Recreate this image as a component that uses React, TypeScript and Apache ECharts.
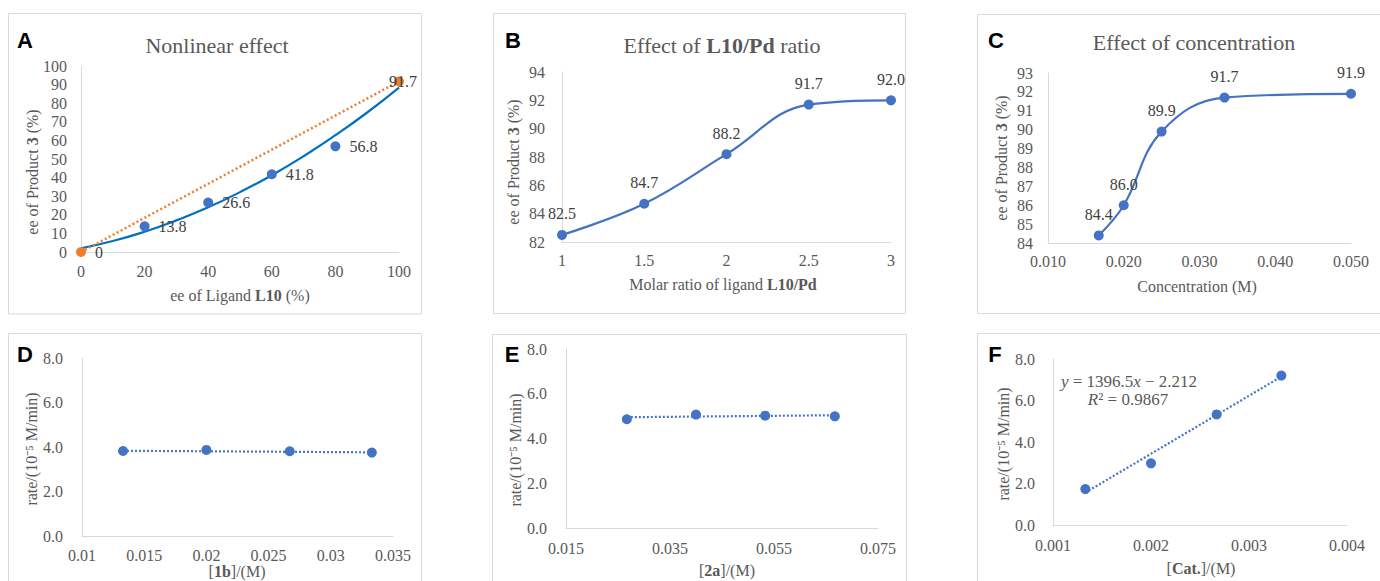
import React, { useEffect, useRef } from "react";
import * as echarts from "echarts";

const SERIF = '"Liberation Serif", "Times New Roman", serif';
const SANS = '"Liberation Sans", Arial, sans-serif';
const GRAY = "#595959";
const LABEL = "#404040";
const AXIS = "#d9d9d9";
const BLUE = "#4472C4";
const FITBLUE = "#0070C0";
const ORANGE = "#ED7D31";

// Panel A – nonlinear effect
const aLigandEe = [20, 40, 60, 80];
const aProductEe = [13.8, 26.6, 41.8, 56.8];
const aRefX = [0, 100];
const aRefY = [0, 91.7];
const aFitX = [0, 10, 20, 30, 40, 50, 60, 70, 80, 90, 100];
const aFitY = [2, 5.9, 10.9, 17.0, 24.0, 32.2, 41.3, 51.5, 62.8, 75.0, 88.4];
const aXTicks = [0, 20, 40, 60, 80, 100];
const aYTicks = [0, 10, 20, 30, 40, 50, 60, 70, 80, 90, 100];

// Panel B – L10/Pd ratio
const bRatio = [1, 1.5, 2, 2.5, 3];
const bEe = [82.5, 84.7, 88.2, 91.7, 92.0];
const bXTicks = [1, 1.5, 2, 2.5, 3];
const bYTicks = [82, 84, 86, 88, 90, 92, 94];

// Panel C – concentration
const cConc = [0.0167, 0.02, 0.025, 0.0333, 0.05];
const cEe = [84.4, 86.0, 89.9, 91.7, 91.9];
const cXTicks = [0.01, 0.02, 0.03, 0.04, 0.05];
const cYTicks = [84, 85, 86, 87, 88, 89, 90, 91, 92, 93];

// Panel D – [1b]
const dConc = [0.0133, 0.02, 0.0267, 0.0333];
const dRate = [3.82, 3.87, 3.81, 3.75];
const dFitX = [0.0133, 0.0333];
const dFitY = [3.83, 3.76];
const dXTicks = [0.01, 0.015, 0.02, 0.025, 0.03, 0.035];

// Panel E – [2a]
const eConc = [0.0267, 0.04, 0.0533, 0.0667];
const eRate = [4.86, 5.07, 5.02, 4.99];
const eFitX = [0.0267, 0.0667];
const eFitY = [4.95, 5.04];
const eXTicks = [0.015, 0.035, 0.055, 0.075];

// Panel F – [Cat.]
const fCat = [0.00133, 0.002, 0.00267, 0.00333];
const fRate = [1.73, 2.97, 5.33, 7.2];
const fFitX = [0.00133, 0.00333];
const fFitY = [1.56, 7.15];
const fXTicks = [0.001, 0.002, 0.003, 0.004];

const rateYTicks = [0, 2, 4, 6, 8];

const pts = (xs: number[], ys: number[]) => xs.map((x, i) => [x, ys[i]]);

function axis(gridIndex: number, ticks: number[], fmt: (v: number) => string, margin: number) {
  return {
    type: "value",
    gridIndex,
    min: ticks[0],
    max: ticks[ticks.length - 1],
    axisLine: { show: true, onZero: false, lineStyle: { color: AXIS, width: 1 } },
    axisTick: { show: false },
    splitLine: { show: false },
    axisLabel: {
      customValues: ticks,
      formatter: fmt,
      margin,
      color: GRAY,
      fontFamily: SERIF,
      fontSize: 16,
    },
  };
}

const labelStyle = { show: true, color: LABEL, fontFamily: SERIF, fontSize: 16 };

function txt(x: number, y: number, text: string, rich: any, rotate = false, base: any = {}) {
  return {
    type: "text",
    x,
    y,
    rotation: rotate ? Math.PI / 2 : 0,
    silent: true,
    style: {
      text,
      rich,
      align: "center",
      verticalAlign: "middle",
      textAlign: "center",
      textVerticalAlign: "middle",
      fill: GRAY,
      fontFamily: SERIF,
      fontSize: 16,
      ...base,
    },
  };
}

const r16 = {
  n: { fontFamily: SERIF, fontSize: 16, fill: GRAY, color: GRAY },
  b: { fontFamily: SERIF, fontSize: 16, fontWeight: "bold", fill: GRAY, color: GRAY },
  i: { fontFamily: SERIF, fontSize: 16, fontStyle: "italic", fill: GRAY, color: GRAY },
};
const r22 = {
  n: { fontFamily: SERIF, fontSize: 22, fill: GRAY, color: GRAY },
  b: { fontFamily: SERIF, fontSize: 22, fontWeight: "bold", fill: GRAY, color: GRAY },
};
const rEq = {
  n: { fontFamily: SERIF, fontSize: 17, fill: GRAY, color: GRAY },
  i: { fontFamily: SERIF, fontSize: 17, fontStyle: "italic", fill: GRAY, color: GRAY },
};

function letter(x: number, y: number, t: string) {
  return {
    type: "text",
    x,
    y,
    silent: true,
    style: {
      text: t,
      align: "center",
      verticalAlign: "middle",
      textAlign: "center",
      textVerticalAlign: "middle",
      fill: "#000",
      fontFamily: SANS,
      fontWeight: "bold",
      fontSize: 22,
    },
  };
}

function border(x: number, y: number, w: number, h: number) {
  return {
    type: "rect",
    silent: true,
    z: -10,
    shape: { x, y, width: w, height: h },
    style: { fill: "none", stroke: AXIS, lineWidth: 1 },
  };
}

export default function App() {
  const ref = useRef<HTMLDivElement>(null);
  useEffect(() => {
    if (!ref.current) return;
    const chart = echarts.init(ref.current, null, { renderer: "svg", width: 1380, height: 581 });
    const f0 = (v: number) => String(Math.round(v));
    const fB = (v: number) => String(+v.toFixed(2));
    const f3 = (v: number) => v.toFixed(3);
    const fD = (v: number) => String(+v.toFixed(4));
    const f1 = (v: number) => v.toFixed(1);
    const dotted = { type: [2, 2], width: 2.2, color: BLUE };

    const option: any = {
      animation: false,
      backgroundColor: "#fff",
      grid: [
        { left: 81, top: 66, width: 318, height: 186 },
        { left: 562, top: 72, width: 329, height: 170 },
        { left: 1048, top: 73, width: 303, height: 170 },
        { left: 82, top: 358, width: 311, height: 178 },
        { left: 566, top: 349, width: 312, height: 179 },
        { left: 1053, top: 359, width: 294, height: 166 },
      ],
      xAxis: [
        axis(0, aXTicks, f0, 11),
        axis(1, bXTicks, fB, 10),
        axis(2, cXTicks, f3, 10),
        axis(3, dXTicks, fD, 11),
        axis(4, eXTicks, f3, 12),
        axis(5, fXTicks, f3, 12),
      ],
      yAxis: [
        axis(0, aYTicks, f0, 14),
        axis(1, bYTicks, f0, 17),
        axis(2, cYTicks, f0, 15),
        axis(3, rateYTicks, f1, 19),
        axis(4, rateYTicks, f1, 19),
        axis(5, rateYTicks, f1, 18),
      ],
      series: [
        {
          type: "line",
          xAxisIndex: 0,
          yAxisIndex: 0,
          data: pts(aFitX, aFitY),
          smooth: true,
          showSymbol: false,
          symbol: "none",
          clip: false,
          lineStyle: { color: FITBLUE, width: 2.2 },
          z: 2,
        },
        {
          type: "line",
          xAxisIndex: 0,
          yAxisIndex: 0,
          data: [
            { value: [aRefX[0], aRefY[0]], label: { show: true, position: "right", distance: 9 } },
            { value: [aRefX[1], aRefY[1]], label: { show: true, position: "right", distance: 9, offset: [-24, 0] } },
          ],
          symbol: "circle",
          symbolSize: 10,
          clip: false,
          itemStyle: { color: ORANGE },
          lineStyle: { color: ORANGE, type: [2, 2.5], width: 2.5 },
          label: { ...labelStyle, formatter: (p: any) => String(p.value[1]) },
          z: 3,
        },
        {
          type: "scatter",
          xAxisIndex: 0,
          yAxisIndex: 0,
          data: pts(aLigandEe, aProductEe),
          symbolSize: 10,
          itemStyle: { color: BLUE, opacity: 1 },
          label: { ...labelStyle, position: "right", distance: 9, formatter: (p: any) => f1(p.value[1]) },
          z: 4,
        },
        {
          type: "line",
          xAxisIndex: 1,
          yAxisIndex: 1,
          data: pts(bRatio, bEe),
          smooth: 0.4,
          symbol: "circle",
          symbolSize: 10,
          clip: false,
          itemStyle: { color: BLUE },
          lineStyle: { color: BLUE, width: 2.2 },
          label: { ...labelStyle, position: "top", distance: 8, formatter: (p: any) => f1(p.value[1]) },
        },
        {
          type: "line",
          xAxisIndex: 2,
          yAxisIndex: 2,
          data: pts(cConc, cEe),
          smooth: 0.4,
          symbol: "circle",
          symbolSize: 10,
          clip: false,
          itemStyle: { color: BLUE },
          lineStyle: { color: BLUE, width: 2.2 },
          label: { ...labelStyle, position: "top", distance: 8, formatter: (p: any) => f1(p.value[1]) },
        },
        {
          type: "line",
          xAxisIndex: 3,
          yAxisIndex: 3,
          data: pts(dFitX, dFitY),
          symbol: "none",
          lineStyle: dotted,
        },
        {
          type: "scatter",
          xAxisIndex: 3,
          yAxisIndex: 3,
          data: pts(dConc, dRate),
          symbolSize: 10,
          itemStyle: { color: BLUE, opacity: 1 },
        },
        {
          type: "line",
          xAxisIndex: 4,
          yAxisIndex: 4,
          data: pts(eFitX, eFitY),
          symbol: "none",
          lineStyle: dotted,
        },
        {
          type: "scatter",
          xAxisIndex: 4,
          yAxisIndex: 4,
          data: pts(eConc, eRate),
          symbolSize: 10,
          itemStyle: { color: BLUE, opacity: 1 },
        },
        {
          type: "line",
          xAxisIndex: 5,
          yAxisIndex: 5,
          data: pts(fFitX, fFitY),
          symbol: "none",
          lineStyle: dotted,
        },
        {
          type: "scatter",
          xAxisIndex: 5,
          yAxisIndex: 5,
          data: pts(fCat, fRate),
          symbolSize: 10,
          itemStyle: { color: BLUE, opacity: 1 },
        },
      ],
      graphic: [
        border(8.5, 13.5, 413, 300.5),
        border(493.5, 13.5, 412, 300),
        border(977.5, 14.5, 430, 299),
        border(8.5, 333.5, 413, 300),
        border(492.5, 334.5, 414, 300),
        border(977.5, 333.5, 430, 300),
        letter(25, 40, "A"),
        letter(513, 40, "B"),
        letter(996, 40, "C"),
        letter(25, 354, "D"),
        letter(512, 354, "E"),
        letter(995, 354, "F"),
        txt(217, 45, "{n|Nonlinear effect}", r22),
        txt(722, 45, "{n|Effect of }{b|L10/Pd}{n| ratio}", r22),
        txt(1194, 42, "{n|Effect of concentration}", r22),
        txt(32, 172, "{n|ee of Product }{b|3}{n| (%)}", r16, true),
        txt(240, 295, "{n|ee of Ligand }{b|L10}{n| (%)}", r16),
        txt(513, 162, "{n|ee of Product }{b|3}{n| (%)}", r16, true),
        txt(723, 284, "{n|Molar ratio of ligand }{b|L10/Pd}", r16),
        txt(1001, 158, "{n|ee of Product }{b|3}{n| (%)}", r16, true),
        txt(1197, 286, "{n|Concentration (M)}", r16),
        txt(31, 449, "{n|rate/(10⁻⁵ M/min)}", r16, true),
        txt(237, 571, "{n|[}{b|1b}{n|]/(M)}", r16),
        txt(515, 450, "{n|rate/(10⁻⁵ M/min)}", r16, true),
        txt(727, 570, "{n|[}{b|2a}{n|]/(M)}", r16),
        txt(1003, 444, "{n|rate/(10⁻⁵ M/min)}", r16, true),
        txt(1201, 568, "{n|[}{b|Cat.}{n|]/(M)}", r16),
        txt(1129, 381, "{i|y}{n| = 1396.5}{i|x}{n| − 2.212}", rEq),
        txt(1128, 399, "{i|R}{n|² = 0.9867}", rEq),
      ],
    };
    chart.setOption(option);
    return () => chart.dispose();
  }, []);
  return (
    <div
      ref={ref}
      style={{ position: "absolute", left: 0, top: 0, width: 1380, height: 581, background: "#fff" }}
    />
  );
}
